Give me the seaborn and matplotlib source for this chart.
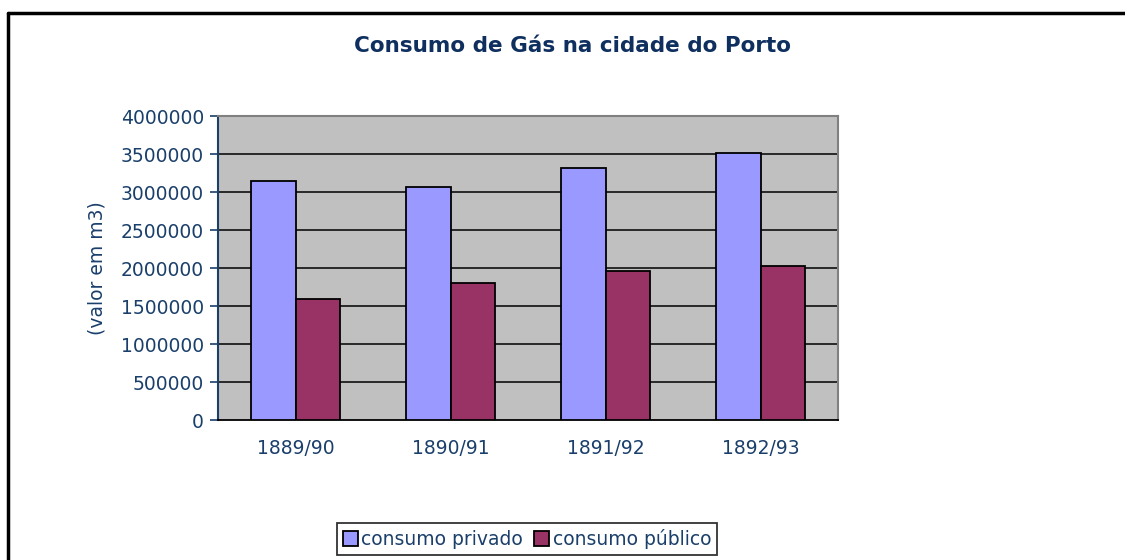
import matplotlib
matplotlib.use("Agg")
import matplotlib.pyplot as plt
import seaborn as sns
import pandas as pd
import numpy as np
from matplotlib.lines import Line2D
from matplotlib.patches import Patch

anos = ["1889/90", "1890/91", "1891/92", "1892/93"]
consumo_privado = [3140000, 3060000, 3320000, 3510000]
consumo_publico = [1590000, 1800000, 1955000, 2030000]
series = ["consumo privado", "consumo público"]
cores = ["#9999FF", "#993366"]
y_ticks = [0, 500000, 1000000, 1500000, 2000000, 2500000, 3000000, 3500000, 4000000]

df = pd.DataFrame({
    "ano": anos * 2,
    "valor": consumo_privado + consumo_publico,
    "serie": [series[0]] * len(anos) + [series[1]] * len(anos),
})

sns.set_theme(style="white")
plt.rcParams["font.family"] = ["DejaVu Sans"]
navy = "#1A3F6B"

fig = plt.figure(figsize=(11.25, 5.6), dpi=100)
ax = fig.add_axes([218 / 1125, 1 - 420 / 560, 620 / 1125, 304 / 560])
ax.set_facecolor("#C0C0C0")

sns.barplot(data=df, x="ano", y="valor", hue="serie", order=anos, hue_order=series,
            palette=cores, width=0.58, gap=0, edgecolor="black", linewidth=1.3,
            saturation=1, ax=ax, legend=False, zorder=3)

ax.set_ylim(0, 4000000)
ax.set_xlim(-0.5, len(anos) - 0.5)
ax.set_yticks(y_ticks)
ax.set_yticklabels([str(v) for v in y_ticks], fontsize=13.5, color=navy)
for v in y_ticks[1:-1]:
    ax.axhline(v, color="black", lw=1.1, zorder=1)
ax.set_xticks(range(len(anos)))
ax.set_xticklabels(anos, fontsize=13.5, color=navy)
ax.set_xticks(np.arange(-0.5, len(anos)), minor=True)
ax.tick_params(axis="x", which="major", length=0, pad=14)
ax.tick_params(axis="x", which="minor", length=6, width=1.2, color="black", direction="out")
ax.tick_params(axis="y", length=6, width=1.2, color=navy, direction="out", left=True, pad=4)
ax.set_xlabel("")
ax.set_ylabel("(valor em m3)", fontsize=13.5, color=navy, labelpad=10)

for s in ["top", "right"]:
    ax.spines[s].set_color("#808080")
    ax.spines[s].set_linewidth(1.5)
ax.spines["left"].set_color(navy)
ax.spines["left"].set_linewidth(1.5)
ax.spines["bottom"].set_color("black")
ax.spines["bottom"].set_linewidth(1.3)

fig.text(573 / 1125, 1 - 46 / 560, "Consumo de Gás na cidade do Porto", ha="center", va="center",
         fontsize=15.5, fontweight="bold", color="#0F2F5F")

handles = [Patch(facecolor=c, edgecolor="black", linewidth=1.3) for c in cores]
leg = fig.legend(handles, series, loc="center", bbox_to_anchor=(527 / 1125, 1 - 539 / 560),
                 ncol=2, fontsize=13.5, frameon=True, fancybox=False, edgecolor="black",
                 handlelength=0.8, handleheight=0.8, handletextpad=0.2, columnspacing=0.6,
                 borderpad=0.3, labelcolor=navy)
leg.get_frame().set_linewidth(1.3)

fig.add_artist(Line2D([8 / 1125, 8 / 1125], [0, 1 - 13 / 560], color="black", lw=2.5,
                      transform=fig.transFigure))
fig.add_artist(Line2D([8 / 1125, 1], [1 - 13 / 560, 1 - 13 / 560], color="black", lw=2.5,
                      transform=fig.transFigure))

fig.savefig("out.png", dpi=100)
